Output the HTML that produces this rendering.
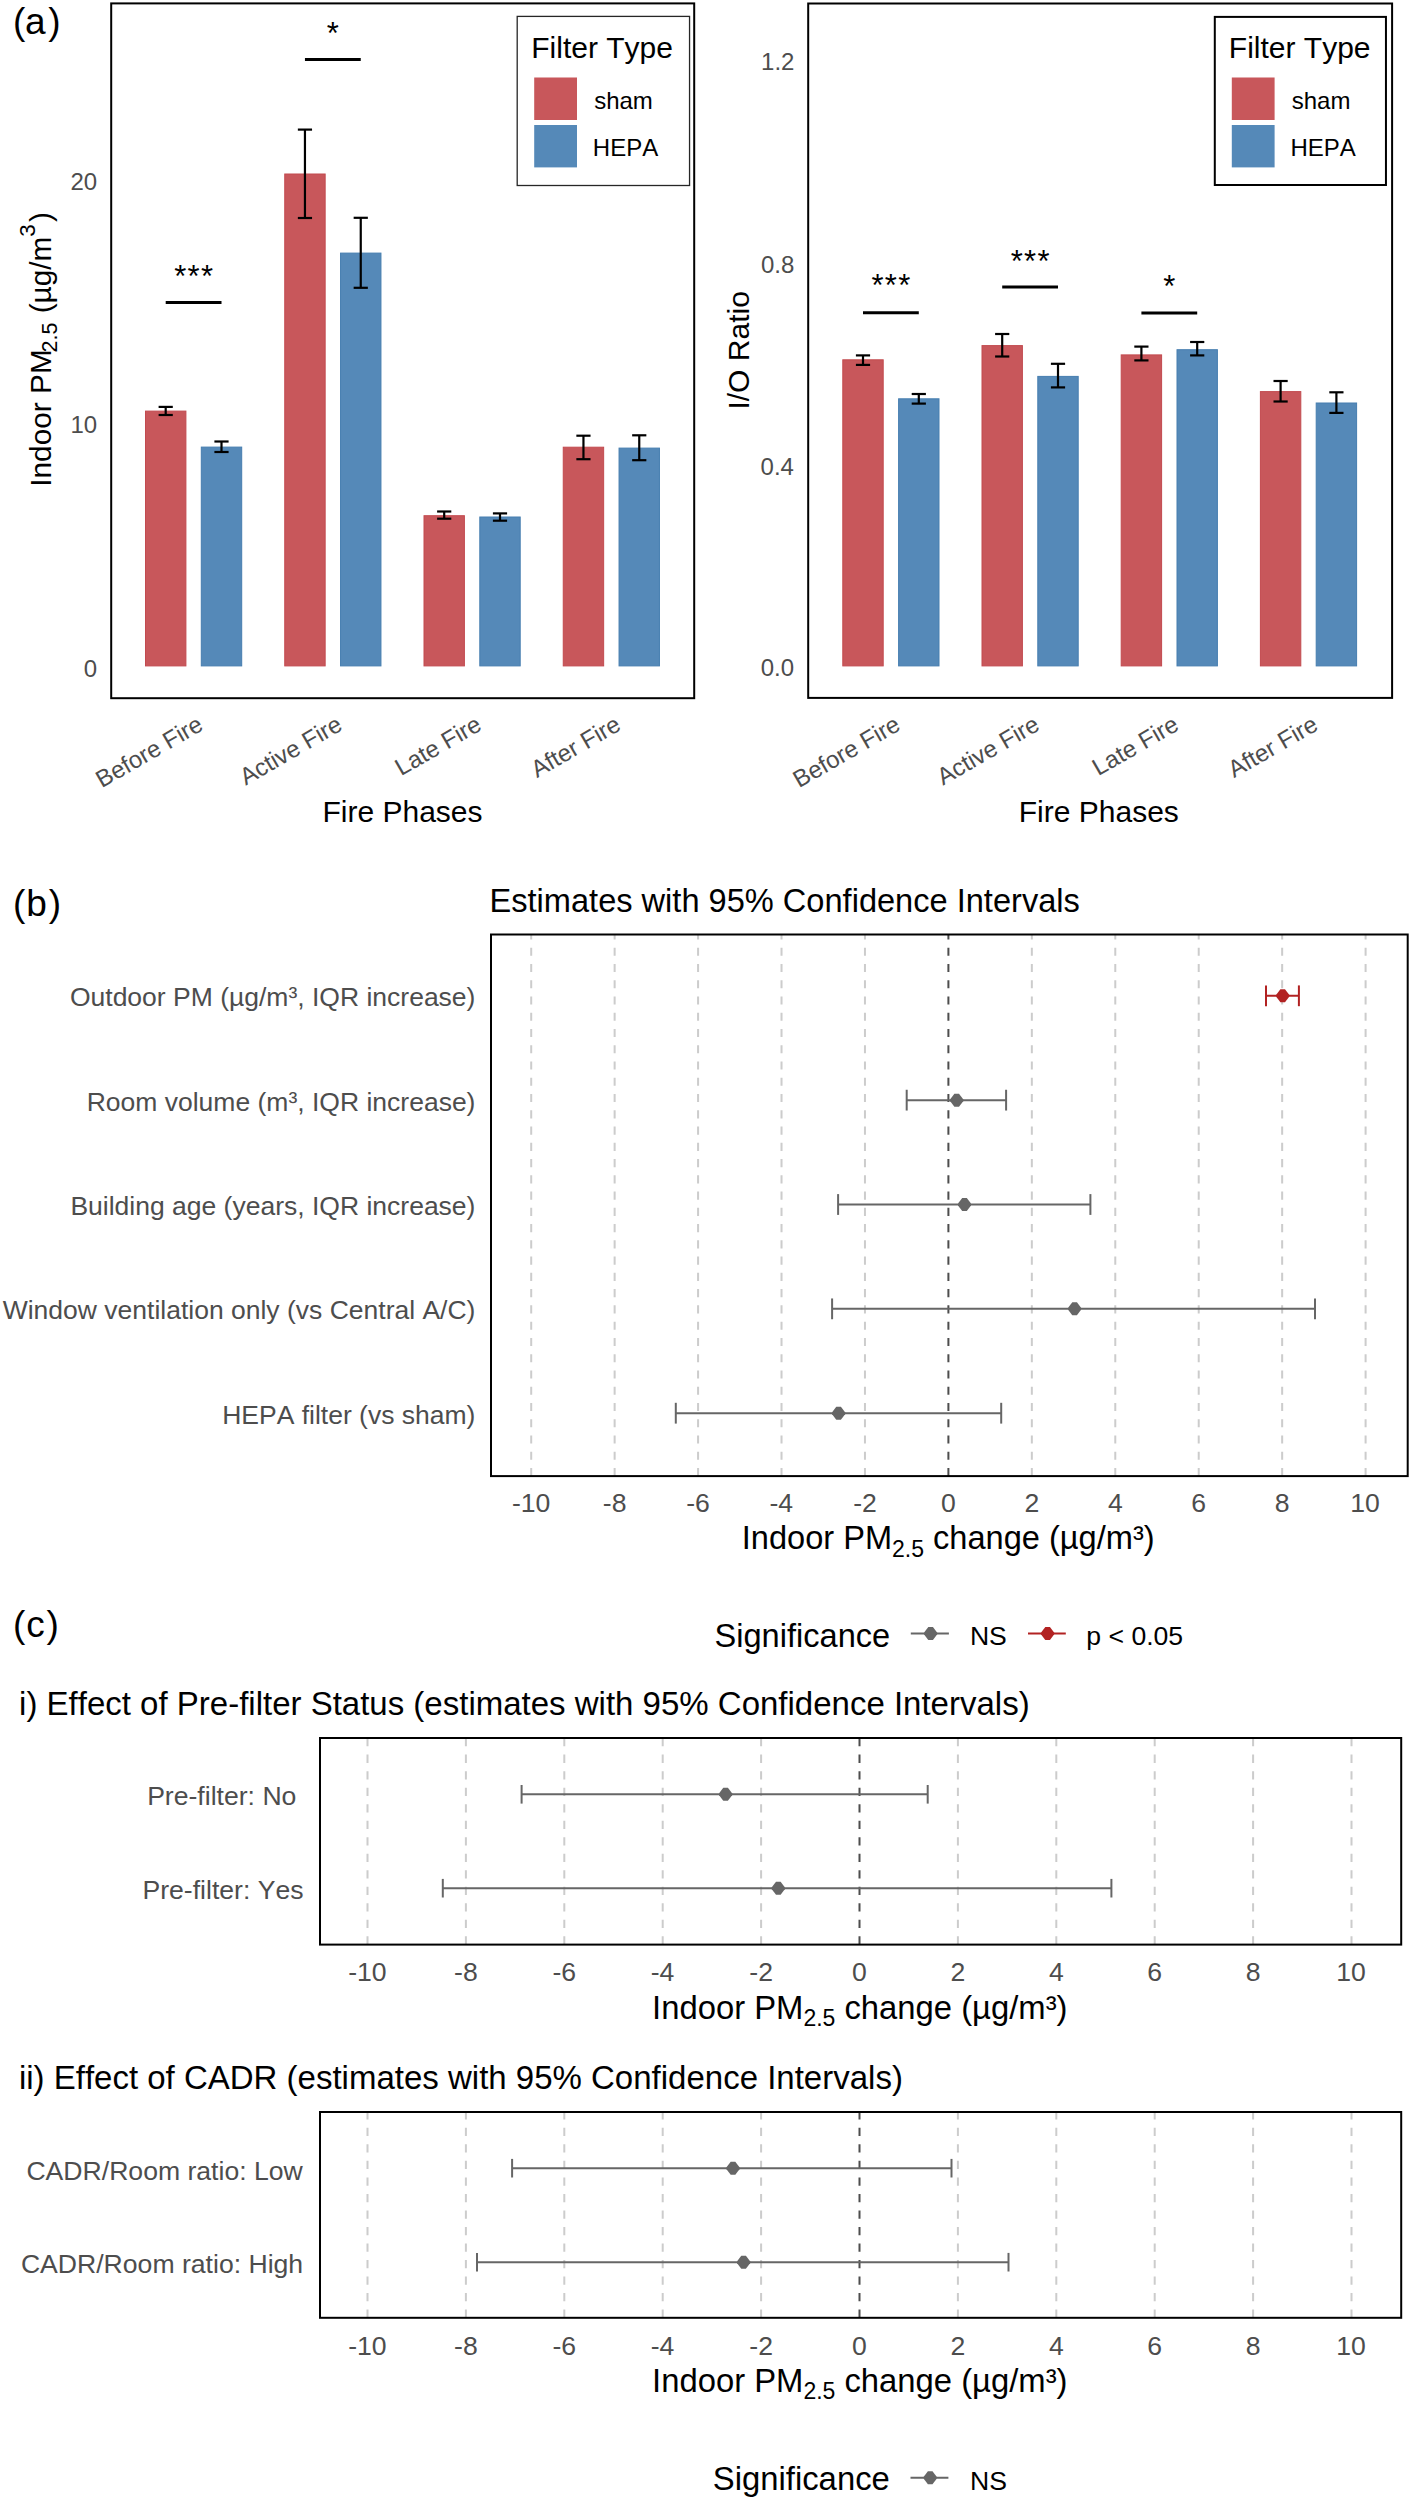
<!DOCTYPE html>
<html><head><meta charset="utf-8"><style>
html,body{margin:0;padding:0;background:#fff;}
svg{display:block;}
text{font-family:"Liberation Sans", sans-serif;font-kerning:none;font-feature-settings:"kern" 0;}
</style></head><body>
<svg width="1411" height="2500" viewBox="0 0 1411 2500" font-family='"Liberation Sans", sans-serif'>
<rect width="1411" height="2500" fill="#fff"/>
<text x="12.91" y="34.2" font-size="37" fill="#000" >(</text>
<text x="25.03" y="34.2" font-size="37" fill="#000" >a</text>
<text x="48.27" y="34.2" font-size="37" fill="#000" >)</text>
<rect x="145.5" y="411.1" width="40.4" height="254.8" fill="#C8575B" stroke="#C24A4F" stroke-width="1" />
<rect x="201.3" y="447.1" width="40.4" height="218.8" fill="#5589B8" stroke="#467EB0" stroke-width="1" />
<rect x="284.75" y="174" width="40.4" height="491.9" fill="#C8575B" stroke="#C24A4F" stroke-width="1" />
<rect x="340.55" y="253.1" width="40.4" height="412.8" fill="#5589B8" stroke="#467EB0" stroke-width="1" />
<rect x="424" y="515.7" width="40.4" height="150.2" fill="#C8575B" stroke="#C24A4F" stroke-width="1" />
<rect x="479.8" y="517" width="40.4" height="148.9" fill="#5589B8" stroke="#467EB0" stroke-width="1" />
<rect x="563.25" y="447.2" width="40.4" height="218.7" fill="#C8575B" stroke="#C24A4F" stroke-width="1" />
<rect x="619.05" y="448.1" width="40.4" height="217.8" fill="#5589B8" stroke="#467EB0" stroke-width="1" />
<line x1="165.7" y1="406.9" x2="165.7" y2="415" stroke="#000" stroke-width="2.2" />
<line x1="158.6" y1="406.9" x2="172.8" y2="406.9" stroke="#000" stroke-width="2.2" />
<line x1="158.6" y1="415" x2="172.8" y2="415" stroke="#000" stroke-width="2.2" />
<line x1="221.5" y1="441.5" x2="221.5" y2="452" stroke="#000" stroke-width="2.2" />
<line x1="214.4" y1="441.5" x2="228.6" y2="441.5" stroke="#000" stroke-width="2.2" />
<line x1="214.4" y1="452" x2="228.6" y2="452" stroke="#000" stroke-width="2.2" />
<line x1="304.95" y1="129.6" x2="304.95" y2="218" stroke="#000" stroke-width="2.2" />
<line x1="297.85" y1="129.6" x2="312.05" y2="129.6" stroke="#000" stroke-width="2.2" />
<line x1="297.85" y1="218" x2="312.05" y2="218" stroke="#000" stroke-width="2.2" />
<line x1="360.75" y1="217.8" x2="360.75" y2="287.8" stroke="#000" stroke-width="2.2" />
<line x1="353.65" y1="217.8" x2="367.85" y2="217.8" stroke="#000" stroke-width="2.2" />
<line x1="353.65" y1="287.8" x2="367.85" y2="287.8" stroke="#000" stroke-width="2.2" />
<line x1="444.2" y1="511.5" x2="444.2" y2="518.7" stroke="#000" stroke-width="2.2" />
<line x1="437.1" y1="511.5" x2="451.3" y2="511.5" stroke="#000" stroke-width="2.2" />
<line x1="437.1" y1="518.7" x2="451.3" y2="518.7" stroke="#000" stroke-width="2.2" />
<line x1="500" y1="513.4" x2="500" y2="520.7" stroke="#000" stroke-width="2.2" />
<line x1="492.9" y1="513.4" x2="507.1" y2="513.4" stroke="#000" stroke-width="2.2" />
<line x1="492.9" y1="520.7" x2="507.1" y2="520.7" stroke="#000" stroke-width="2.2" />
<line x1="583.45" y1="435.7" x2="583.45" y2="459.2" stroke="#000" stroke-width="2.2" />
<line x1="576.35" y1="435.7" x2="590.55" y2="435.7" stroke="#000" stroke-width="2.2" />
<line x1="576.35" y1="459.2" x2="590.55" y2="459.2" stroke="#000" stroke-width="2.2" />
<line x1="639.25" y1="435.3" x2="639.25" y2="460.2" stroke="#000" stroke-width="2.2" />
<line x1="632.15" y1="435.3" x2="646.35" y2="435.3" stroke="#000" stroke-width="2.2" />
<line x1="632.15" y1="460.2" x2="646.35" y2="460.2" stroke="#000" stroke-width="2.2" />
<line x1="165.7" y1="302.4" x2="221.5" y2="302.4" stroke="#000" stroke-width="3" />
<text x="174.16" y="287.04" font-size="31" fill="#000" >*</text>
<text x="187.56" y="287.04" font-size="31" fill="#000" >*</text>
<text x="200.96" y="287.04" font-size="31" fill="#000" >*</text>
<line x1="304.95" y1="59.4" x2="360.75" y2="59.4" stroke="#000" stroke-width="3" />
<text x="326.81" y="43.64" font-size="31" fill="#000" >*</text>
<rect x="111.2" y="3.4" width="583" height="694.8" fill="none" stroke="#000" stroke-width="2" />
<text x="83.79" y="676.56" font-size="24" fill="#4D4D4D" >0</text>
<text x="70.44" y="433.16" font-size="24" fill="#4D4D4D" >10</text>
<text x="70.44" y="190.26" font-size="24" fill="#4D4D4D" >20</text>
<text x="0" y="0" font-size="24" fill="#4D4D4D" text-anchor="end" transform="translate(204.6,729) rotate(-30)">Before Fire</text>
<text x="0" y="0" font-size="24" fill="#4D4D4D" text-anchor="end" transform="translate(343.85,729) rotate(-30)">Active Fire</text>
<text x="0" y="0" font-size="24" fill="#4D4D4D" text-anchor="end" transform="translate(483.1,729) rotate(-30)">Late Fire</text>
<text x="0" y="0" font-size="24" fill="#4D4D4D" text-anchor="end" transform="translate(622.35,729) rotate(-30)">After Fire</text>
<text x="322.48" y="822.3" font-size="30" fill="#000" >Fire Phases</text>
<rect x="517.2" y="16.4" width="172.35" height="169.1" fill="#fff" stroke="#262626" stroke-width="1.3" />
<text x="531.24" y="57.9" font-size="30" fill="#000" >Filter Type</text>
<rect x="534.2" y="77.5" width="42.8" height="42.5" fill="#C8575B" stroke="none" stroke-width="0" />
<rect x="534.2" y="125" width="42.8" height="42.4" fill="#5589B8" stroke="none" stroke-width="0" />
<text x="594.13" y="109" font-size="24" fill="#000" >sham</text>
<text x="592.83" y="156.3" font-size="24" fill="#000" >HEPA</text>
<rect x="842.8" y="359.8" width="40.4" height="306.1" fill="#C8575B" stroke="#C24A4F" stroke-width="1" />
<rect x="898.6" y="398.8" width="40.4" height="267.1" fill="#5589B8" stroke="#467EB0" stroke-width="1" />
<rect x="982" y="345.6" width="40.4" height="320.3" fill="#C8575B" stroke="#C24A4F" stroke-width="1" />
<rect x="1037.8" y="376.4" width="40.4" height="289.5" fill="#5589B8" stroke="#467EB0" stroke-width="1" />
<rect x="1121.2" y="354.9" width="40.4" height="311" fill="#C8575B" stroke="#C24A4F" stroke-width="1" />
<rect x="1177" y="349.7" width="40.4" height="316.2" fill="#5589B8" stroke="#467EB0" stroke-width="1" />
<rect x="1260.4" y="391.6" width="40.4" height="274.3" fill="#C8575B" stroke="#C24A4F" stroke-width="1" />
<rect x="1316.2" y="403" width="40.4" height="262.9" fill="#5589B8" stroke="#467EB0" stroke-width="1" />
<line x1="863" y1="355.4" x2="863" y2="364.9" stroke="#000" stroke-width="2.2" />
<line x1="855.9" y1="355.4" x2="870.1" y2="355.4" stroke="#000" stroke-width="2.2" />
<line x1="855.9" y1="364.9" x2="870.1" y2="364.9" stroke="#000" stroke-width="2.2" />
<line x1="918.8" y1="394" x2="918.8" y2="403.6" stroke="#000" stroke-width="2.2" />
<line x1="911.7" y1="394" x2="925.9" y2="394" stroke="#000" stroke-width="2.2" />
<line x1="911.7" y1="403.6" x2="925.9" y2="403.6" stroke="#000" stroke-width="2.2" />
<line x1="1002.2" y1="334" x2="1002.2" y2="356.5" stroke="#000" stroke-width="2.2" />
<line x1="995.1" y1="334" x2="1009.3" y2="334" stroke="#000" stroke-width="2.2" />
<line x1="995.1" y1="356.5" x2="1009.3" y2="356.5" stroke="#000" stroke-width="2.2" />
<line x1="1058" y1="363.8" x2="1058" y2="387.4" stroke="#000" stroke-width="2.2" />
<line x1="1050.9" y1="363.8" x2="1065.1" y2="363.8" stroke="#000" stroke-width="2.2" />
<line x1="1050.9" y1="387.4" x2="1065.1" y2="387.4" stroke="#000" stroke-width="2.2" />
<line x1="1141.4" y1="346.6" x2="1141.4" y2="360.4" stroke="#000" stroke-width="2.2" />
<line x1="1134.3" y1="346.6" x2="1148.5" y2="346.6" stroke="#000" stroke-width="2.2" />
<line x1="1134.3" y1="360.4" x2="1148.5" y2="360.4" stroke="#000" stroke-width="2.2" />
<line x1="1197.2" y1="342" x2="1197.2" y2="355.4" stroke="#000" stroke-width="2.2" />
<line x1="1190.1" y1="342" x2="1204.3" y2="342" stroke="#000" stroke-width="2.2" />
<line x1="1190.1" y1="355.4" x2="1204.3" y2="355.4" stroke="#000" stroke-width="2.2" />
<line x1="1280.6" y1="381" x2="1280.6" y2="401.5" stroke="#000" stroke-width="2.2" />
<line x1="1273.5" y1="381" x2="1287.7" y2="381" stroke="#000" stroke-width="2.2" />
<line x1="1273.5" y1="401.5" x2="1287.7" y2="401.5" stroke="#000" stroke-width="2.2" />
<line x1="1336.4" y1="392.3" x2="1336.4" y2="412.9" stroke="#000" stroke-width="2.2" />
<line x1="1329.3" y1="392.3" x2="1343.5" y2="392.3" stroke="#000" stroke-width="2.2" />
<line x1="1329.3" y1="412.9" x2="1343.5" y2="412.9" stroke="#000" stroke-width="2.2" />
<line x1="863" y1="312.8" x2="918.8" y2="312.8" stroke="#000" stroke-width="3" />
<text x="871.46" y="296.44" font-size="31" fill="#000" >*</text>
<text x="884.86" y="296.44" font-size="31" fill="#000" >*</text>
<text x="898.26" y="296.44" font-size="31" fill="#000" >*</text>
<line x1="1002.2" y1="287" x2="1058" y2="287" stroke="#000" stroke-width="3" />
<text x="1010.66" y="272.14" font-size="31" fill="#000" >*</text>
<text x="1024.06" y="272.14" font-size="31" fill="#000" >*</text>
<text x="1037.46" y="272.14" font-size="31" fill="#000" >*</text>
<line x1="1141.4" y1="312.9" x2="1197.2" y2="312.9" stroke="#000" stroke-width="3" />
<text x="1163.26" y="297.14" font-size="31" fill="#000" >*</text>
<rect x="808.2" y="3.5" width="583.9" height="694.4" fill="none" stroke="#000" stroke-width="2" />
<text x="760.77" y="676.26" font-size="24" fill="#4D4D4D" >0.0</text>
<text x="760.54" y="474.56" font-size="24" fill="#4D4D4D" >0.4</text>
<text x="760.88" y="272.56" font-size="24" fill="#4D4D4D" >0.8</text>
<text x="761.04" y="70.08" font-size="24" fill="#4D4D4D" >1.2</text>
<text x="0" y="0" font-size="24" fill="#4D4D4D" text-anchor="end" transform="translate(901.9,729) rotate(-30)">Before Fire</text>
<text x="0" y="0" font-size="24" fill="#4D4D4D" text-anchor="end" transform="translate(1041.1,729) rotate(-30)">Active Fire</text>
<text x="0" y="0" font-size="24" fill="#4D4D4D" text-anchor="end" transform="translate(1180.3,729) rotate(-30)">Late Fire</text>
<text x="0" y="0" font-size="24" fill="#4D4D4D" text-anchor="end" transform="translate(1319.5,729) rotate(-30)">After Fire</text>
<text x="1018.78" y="822.3" font-size="30" fill="#000" >Fire Phases</text>
<rect x="1214.8" y="16.9" width="171.15" height="168.1" fill="#fff" stroke="#000" stroke-width="2" />
<text x="1228.84" y="57.9" font-size="30" fill="#000" >Filter Type</text>
<rect x="1231.8" y="77.5" width="42.8" height="42.5" fill="#C8575B" stroke="none" stroke-width="0" />
<rect x="1231.8" y="125" width="42.8" height="42.4" fill="#5589B8" stroke="none" stroke-width="0" />
<text x="1291.73" y="109" font-size="24" fill="#000" >sham</text>
<text x="1290.43" y="156.3" font-size="24" fill="#000" >HEPA</text>
<text transform="rotate(-90)" fill="#000"><tspan x="-486.75" y="50.8" font-size="29.8">Indoor PM</tspan><tspan x="-352.48" y="56.6" font-size="21.5">2.5</tspan><tspan x="-313.35" y="50.8" font-size="29.8">(µg/m</tspan><tspan x="-236.76" y="34.8" font-size="22.5">3</tspan><tspan x="-221.97" y="50.8" font-size="29.8">)</tspan></text>
<text transform="rotate(-90)" font-size="30" fill="#000" x="-409.57" y="749.3">I/O Ratio</text>
<text x="13.01" y="915.5" font-size="37" fill="#000" >(</text>
<text x="26.3" y="915.5" font-size="37" fill="#000" >b</text>
<text x="48.67" y="915.5" font-size="37" fill="#000" >)</text>
<text x="489.53" y="912.1" font-size="32.6" fill="#000" >Estimates with 95% Confidence Intervals</text>
<line x1="531.2" y1="1476.1" x2="531.2" y2="934.5" stroke="#CCCCCC" stroke-width="2" stroke-dasharray="8.13 8.13"/>
<line x1="614.64" y1="1476.1" x2="614.64" y2="934.5" stroke="#CCCCCC" stroke-width="2" stroke-dasharray="8.13 8.13"/>
<line x1="698.08" y1="1476.1" x2="698.08" y2="934.5" stroke="#CCCCCC" stroke-width="2" stroke-dasharray="8.13 8.13"/>
<line x1="781.52" y1="1476.1" x2="781.52" y2="934.5" stroke="#CCCCCC" stroke-width="2" stroke-dasharray="8.13 8.13"/>
<line x1="864.96" y1="1476.1" x2="864.96" y2="934.5" stroke="#CCCCCC" stroke-width="2" stroke-dasharray="8.13 8.13"/>
<line x1="1031.84" y1="1476.1" x2="1031.84" y2="934.5" stroke="#CCCCCC" stroke-width="2" stroke-dasharray="8.13 8.13"/>
<line x1="1115.28" y1="1476.1" x2="1115.28" y2="934.5" stroke="#CCCCCC" stroke-width="2" stroke-dasharray="8.13 8.13"/>
<line x1="1198.72" y1="1476.1" x2="1198.72" y2="934.5" stroke="#CCCCCC" stroke-width="2" stroke-dasharray="8.13 8.13"/>
<line x1="1282.16" y1="1476.1" x2="1282.16" y2="934.5" stroke="#CCCCCC" stroke-width="2" stroke-dasharray="8.13 8.13"/>
<line x1="1365.6" y1="1476.1" x2="1365.6" y2="934.5" stroke="#CCCCCC" stroke-width="2" stroke-dasharray="8.13 8.13"/>
<line x1="948.4" y1="1476.1" x2="948.4" y2="934.5" stroke="#4D4D4D" stroke-width="2" stroke-dasharray="8.13 8.13"/>
<line x1="1266" y1="995.8" x2="1298.9" y2="995.8" stroke="#B22222" stroke-width="2" />
<line x1="1266" y1="985.4" x2="1266" y2="1006.2" stroke="#B22222" stroke-width="2" />
<line x1="1298.9" y1="985.4" x2="1298.9" y2="1006.2" stroke="#B22222" stroke-width="2" />
<polygon points="1280.4,989.3 1285,989.3 1289.2,994.8 1289.2,996.8 1285,1002.3 1280.4,1002.3 1276.2,996.8 1276.2,994.8" fill="#B22222"/>
<line x1="906.7" y1="1100.15" x2="1006.1" y2="1100.15" stroke="#666666" stroke-width="2" />
<line x1="906.7" y1="1089.75" x2="906.7" y2="1110.55" stroke="#666666" stroke-width="2" />
<line x1="1006.1" y1="1089.75" x2="1006.1" y2="1110.55" stroke="#666666" stroke-width="2" />
<polygon points="954.4,1093.65 959,1093.65 963.2,1099.15 963.2,1101.15 959,1106.65 954.4,1106.65 950.2,1101.15 950.2,1099.15" fill="#666666"/>
<line x1="838.1" y1="1204.5" x2="1090.4" y2="1204.5" stroke="#666666" stroke-width="2" />
<line x1="838.1" y1="1194.1" x2="838.1" y2="1214.9" stroke="#666666" stroke-width="2" />
<line x1="1090.4" y1="1194.1" x2="1090.4" y2="1214.9" stroke="#666666" stroke-width="2" />
<polygon points="962.2,1198 966.8,1198 971,1203.5 971,1205.5 966.8,1211 962.2,1211 958,1205.5 958,1203.5" fill="#666666"/>
<line x1="832.1" y1="1308.85" x2="1315" y2="1308.85" stroke="#666666" stroke-width="2" />
<line x1="832.1" y1="1298.45" x2="832.1" y2="1319.25" stroke="#666666" stroke-width="2" />
<line x1="1315" y1="1298.45" x2="1315" y2="1319.25" stroke="#666666" stroke-width="2" />
<polygon points="1072.3,1302.35 1076.9,1302.35 1081.1,1307.85 1081.1,1309.85 1076.9,1315.35 1072.3,1315.35 1068.1,1309.85 1068.1,1307.85" fill="#666666"/>
<line x1="675.8" y1="1413.2" x2="1001.2" y2="1413.2" stroke="#666666" stroke-width="2" />
<line x1="675.8" y1="1402.8" x2="675.8" y2="1423.6" stroke="#666666" stroke-width="2" />
<line x1="1001.2" y1="1402.8" x2="1001.2" y2="1423.6" stroke="#666666" stroke-width="2" />
<polygon points="836.3,1406.7 840.9,1406.7 845.1,1412.2 845.1,1414.2 840.9,1419.7 836.3,1419.7 832.1,1414.2 832.1,1412.2" fill="#666666"/>
<rect x="491" y="934.5" width="916.7" height="541.6" fill="none" stroke="#000" stroke-width="2" />
<text x="69.93" y="1006.2" font-size="26.5" fill="#4D4D4D" >Outdoor PM (µg/m³, IQR increase)</text>
<text x="86.69" y="1110.55" font-size="26.5" fill="#4D4D4D" >Room volume (m³, IQR increase)</text>
<text x="70.4" y="1214.9" font-size="26.5" fill="#4D4D4D" >Building age (years, IQR increase)</text>
<text x="2.69" y="1319.25" font-size="26.5" fill="#4D4D4D" >Window ventilation only (vs Central A/C)</text>
<text x="222.18" y="1423.6" font-size="26.5" fill="#4D4D4D" >HEPA filter (vs sham)</text>
<text x="511.91" y="1511.7" font-size="26.6" fill="#4D4D4D" >-10</text>
<text x="602.8" y="1511.7" font-size="26.6" fill="#4D4D4D" >-8</text>
<text x="686.25" y="1511.7" font-size="26.6" fill="#4D4D4D" >-6</text>
<text x="769.49" y="1511.7" font-size="26.6" fill="#4D4D4D" >-4</text>
<text x="853.21" y="1511.7" font-size="26.6" fill="#4D4D4D" >-2</text>
<text x="941" y="1511.7" font-size="26.6" fill="#4D4D4D" >0</text>
<text x="1024.44" y="1511.7" font-size="26.6" fill="#4D4D4D" >2</text>
<text x="1107.97" y="1511.7" font-size="26.6" fill="#4D4D4D" >4</text>
<text x="1191.23" y="1511.7" font-size="26.6" fill="#4D4D4D" >6</text>
<text x="1274.76" y="1511.7" font-size="26.6" fill="#4D4D4D" >8</text>
<text x="1350.31" y="1511.7" font-size="26.6" fill="#4D4D4D" >10</text>
<text x="741.74" y="1549.3" font-size="32.6" fill="#000">Indoor PM<tspan font-size="23" dy="7.3">2.5</tspan><tspan dy="-7.3"> change (µg/m³)</tspan></text>
<text x="714.52" y="1646.5" font-size="32.6" fill="#000" >Significance</text>
<line x1="910.8" y1="1633.6" x2="948.9" y2="1633.6" stroke="#666666" stroke-width="2" />
<polygon points="928.3,1627.1 932.9,1627.1 937.1,1632.6 937.1,1634.6 932.9,1640.1 928.3,1640.1 924.1,1634.6 924.1,1632.6" fill="#666666"/>
<text x="969.92" y="1645.2" font-size="26.6" fill="#000" >NS</text>
<line x1="1028" y1="1633.6" x2="1065.8" y2="1633.6" stroke="#B22222" stroke-width="2" />
<polygon points="1045.3,1627.1 1049.9,1627.1 1054.1,1632.6 1054.1,1634.6 1049.9,1640.1 1045.3,1640.1 1041.1,1634.6 1041.1,1632.6" fill="#B22222"/>
<text x="1086.29" y="1645.2" font-size="26.6" fill="#000" >p &lt; 0.05</text>
<text x="13.01" y="1636.8" font-size="37" fill="#000" >(</text>
<text x="26.35" y="1636.8" font-size="37" fill="#000" >c</text>
<text x="46.47" y="1636.8" font-size="37" fill="#000" >)</text>
<text x="19.09" y="1714.7" font-size="33" fill="#000" >i) Effect of Pre-filter Status (estimates with 95% Confidence Intervals)</text>
<line x1="367.5" y1="1944.6" x2="367.5" y2="1738" stroke="#CCCCCC" stroke-width="2" stroke-dasharray="8.26 8.26"/>
<line x1="465.9" y1="1944.6" x2="465.9" y2="1738" stroke="#CCCCCC" stroke-width="2" stroke-dasharray="8.26 8.26"/>
<line x1="564.3" y1="1944.6" x2="564.3" y2="1738" stroke="#CCCCCC" stroke-width="2" stroke-dasharray="8.26 8.26"/>
<line x1="662.7" y1="1944.6" x2="662.7" y2="1738" stroke="#CCCCCC" stroke-width="2" stroke-dasharray="8.26 8.26"/>
<line x1="761.1" y1="1944.6" x2="761.1" y2="1738" stroke="#CCCCCC" stroke-width="2" stroke-dasharray="8.26 8.26"/>
<line x1="957.9" y1="1944.6" x2="957.9" y2="1738" stroke="#CCCCCC" stroke-width="2" stroke-dasharray="8.26 8.26"/>
<line x1="1056.3" y1="1944.6" x2="1056.3" y2="1738" stroke="#CCCCCC" stroke-width="2" stroke-dasharray="8.26 8.26"/>
<line x1="1154.7" y1="1944.6" x2="1154.7" y2="1738" stroke="#CCCCCC" stroke-width="2" stroke-dasharray="8.26 8.26"/>
<line x1="1253.1" y1="1944.6" x2="1253.1" y2="1738" stroke="#CCCCCC" stroke-width="2" stroke-dasharray="8.26 8.26"/>
<line x1="1351.5" y1="1944.6" x2="1351.5" y2="1738" stroke="#CCCCCC" stroke-width="2" stroke-dasharray="8.26 8.26"/>
<line x1="859.5" y1="1944.6" x2="859.5" y2="1738" stroke="#4D4D4D" stroke-width="2" stroke-dasharray="8.26 8.26"/>
<line x1="521.6" y1="1794.3" x2="927.7" y2="1794.3" stroke="#666666" stroke-width="2" />
<line x1="521.6" y1="1785" x2="521.6" y2="1803.6" stroke="#666666" stroke-width="2" />
<line x1="927.7" y1="1785" x2="927.7" y2="1803.6" stroke="#666666" stroke-width="2" />
<polygon points="723.3,1787.8 727.9,1787.8 732.1,1793.3 732.1,1795.3 727.9,1800.8 723.3,1800.8 719.1,1795.3 719.1,1793.3" fill="#666666"/>
<line x1="442.8" y1="1888.2" x2="1111.4" y2="1888.2" stroke="#666666" stroke-width="2" />
<line x1="442.8" y1="1878.9" x2="442.8" y2="1897.5" stroke="#666666" stroke-width="2" />
<line x1="1111.4" y1="1878.9" x2="1111.4" y2="1897.5" stroke="#666666" stroke-width="2" />
<polygon points="776,1881.7 780.6,1881.7 784.8,1887.2 784.8,1889.2 780.6,1894.7 776,1894.7 771.8,1889.2 771.8,1887.2" fill="#666666"/>
<rect x="320" y="1738" width="1081.2" height="206.6" fill="none" stroke="#000" stroke-width="2" />
<text x="147.13" y="1804.7" font-size="26.6" fill="#4D4D4D" >Pre-filter: No</text>
<text x="142.44" y="1899.3" font-size="26.6" fill="#4D4D4D" >Pre-filter: Yes</text>
<text x="348.21" y="1980.8" font-size="26.6" fill="#4D4D4D" >-10</text>
<text x="454.06" y="1980.8" font-size="26.6" fill="#4D4D4D" >-8</text>
<text x="552.47" y="1980.8" font-size="26.6" fill="#4D4D4D" >-6</text>
<text x="650.67" y="1980.8" font-size="26.6" fill="#4D4D4D" >-4</text>
<text x="749.35" y="1980.8" font-size="26.6" fill="#4D4D4D" >-2</text>
<text x="852.1" y="1980.8" font-size="26.6" fill="#4D4D4D" >0</text>
<text x="950.5" y="1980.8" font-size="26.6" fill="#4D4D4D" >2</text>
<text x="1048.99" y="1980.8" font-size="26.6" fill="#4D4D4D" >4</text>
<text x="1147.21" y="1980.8" font-size="26.6" fill="#4D4D4D" >6</text>
<text x="1245.7" y="1980.8" font-size="26.6" fill="#4D4D4D" >8</text>
<text x="1336.21" y="1980.8" font-size="26.6" fill="#4D4D4D" >10</text>
<text x="652.07" y="2019" font-size="32.8" fill="#000">Indoor PM<tspan font-size="23" dy="7.3">2.5</tspan><tspan dy="-7.3"> change (µg/m³)</tspan></text>
<text x="18.89" y="2089.3" font-size="33" fill="#000" >ii) Effect of CADR (estimates with 95% Confidence Intervals)</text>
<line x1="367.5" y1="2317.8" x2="367.5" y2="2112" stroke="#CCCCCC" stroke-width="2" stroke-dasharray="8.26 8.26"/>
<line x1="465.9" y1="2317.8" x2="465.9" y2="2112" stroke="#CCCCCC" stroke-width="2" stroke-dasharray="8.26 8.26"/>
<line x1="564.3" y1="2317.8" x2="564.3" y2="2112" stroke="#CCCCCC" stroke-width="2" stroke-dasharray="8.26 8.26"/>
<line x1="662.7" y1="2317.8" x2="662.7" y2="2112" stroke="#CCCCCC" stroke-width="2" stroke-dasharray="8.26 8.26"/>
<line x1="761.1" y1="2317.8" x2="761.1" y2="2112" stroke="#CCCCCC" stroke-width="2" stroke-dasharray="8.26 8.26"/>
<line x1="957.9" y1="2317.8" x2="957.9" y2="2112" stroke="#CCCCCC" stroke-width="2" stroke-dasharray="8.26 8.26"/>
<line x1="1056.3" y1="2317.8" x2="1056.3" y2="2112" stroke="#CCCCCC" stroke-width="2" stroke-dasharray="8.26 8.26"/>
<line x1="1154.7" y1="2317.8" x2="1154.7" y2="2112" stroke="#CCCCCC" stroke-width="2" stroke-dasharray="8.26 8.26"/>
<line x1="1253.1" y1="2317.8" x2="1253.1" y2="2112" stroke="#CCCCCC" stroke-width="2" stroke-dasharray="8.26 8.26"/>
<line x1="1351.5" y1="2317.8" x2="1351.5" y2="2112" stroke="#CCCCCC" stroke-width="2" stroke-dasharray="8.26 8.26"/>
<line x1="859.5" y1="2317.8" x2="859.5" y2="2112" stroke="#4D4D4D" stroke-width="2" stroke-dasharray="8.26 8.26"/>
<line x1="512.1" y1="2168.2" x2="951.5" y2="2168.2" stroke="#666666" stroke-width="2" />
<line x1="512.1" y1="2158.9" x2="512.1" y2="2177.5" stroke="#666666" stroke-width="2" />
<line x1="951.5" y1="2158.9" x2="951.5" y2="2177.5" stroke="#666666" stroke-width="2" />
<polygon points="730.7,2161.7 735.3,2161.7 739.5,2167.2 739.5,2169.2 735.3,2174.7 730.7,2174.7 726.5,2169.2 726.5,2167.2" fill="#666666"/>
<line x1="477" y1="2262.2" x2="1008.5" y2="2262.2" stroke="#666666" stroke-width="2" />
<line x1="477" y1="2252.9" x2="477" y2="2271.5" stroke="#666666" stroke-width="2" />
<line x1="1008.5" y1="2252.9" x2="1008.5" y2="2271.5" stroke="#666666" stroke-width="2" />
<polygon points="741.3,2255.7 745.9,2255.7 750.1,2261.2 750.1,2263.2 745.9,2268.7 741.3,2268.7 737.1,2263.2 737.1,2261.2" fill="#666666"/>
<rect x="320" y="2112" width="1081.2" height="205.8" fill="none" stroke="#000" stroke-width="2" />
<text x="26.41" y="2179.7" font-size="26.6" fill="#4D4D4D" >CADR/Room ratio: Low</text>
<text x="20.89" y="2273.1" font-size="26.6" fill="#4D4D4D" >CADR/Room ratio: High</text>
<text x="348.21" y="2354.8" font-size="26.6" fill="#4D4D4D" >-10</text>
<text x="454.06" y="2354.8" font-size="26.6" fill="#4D4D4D" >-8</text>
<text x="552.47" y="2354.8" font-size="26.6" fill="#4D4D4D" >-6</text>
<text x="650.67" y="2354.8" font-size="26.6" fill="#4D4D4D" >-4</text>
<text x="749.35" y="2354.8" font-size="26.6" fill="#4D4D4D" >-2</text>
<text x="852.1" y="2354.8" font-size="26.6" fill="#4D4D4D" >0</text>
<text x="950.5" y="2354.8" font-size="26.6" fill="#4D4D4D" >2</text>
<text x="1048.99" y="2354.8" font-size="26.6" fill="#4D4D4D" >4</text>
<text x="1147.21" y="2354.8" font-size="26.6" fill="#4D4D4D" >6</text>
<text x="1245.7" y="2354.8" font-size="26.6" fill="#4D4D4D" >8</text>
<text x="1336.21" y="2354.8" font-size="26.6" fill="#4D4D4D" >10</text>
<text x="652.07" y="2391.7" font-size="32.8" fill="#000">Indoor PM<tspan font-size="23" dy="7.3">2.5</tspan><tspan dy="-7.3"> change (µg/m³)</tspan></text>
<text x="712.81" y="2490.3" font-size="32.85" fill="#000" >Significance</text>
<line x1="910.5" y1="2477.8" x2="948.4" y2="2477.8" stroke="#666666" stroke-width="2" />
<polygon points="927.9,2471.3 932.5,2471.3 936.7,2476.8 936.7,2478.8 932.5,2484.3 927.9,2484.3 923.7,2478.8 923.7,2476.8" fill="#666666"/>
<text x="970.02" y="2489.6" font-size="26.6" fill="#000" >NS</text>
</svg></body></html>
